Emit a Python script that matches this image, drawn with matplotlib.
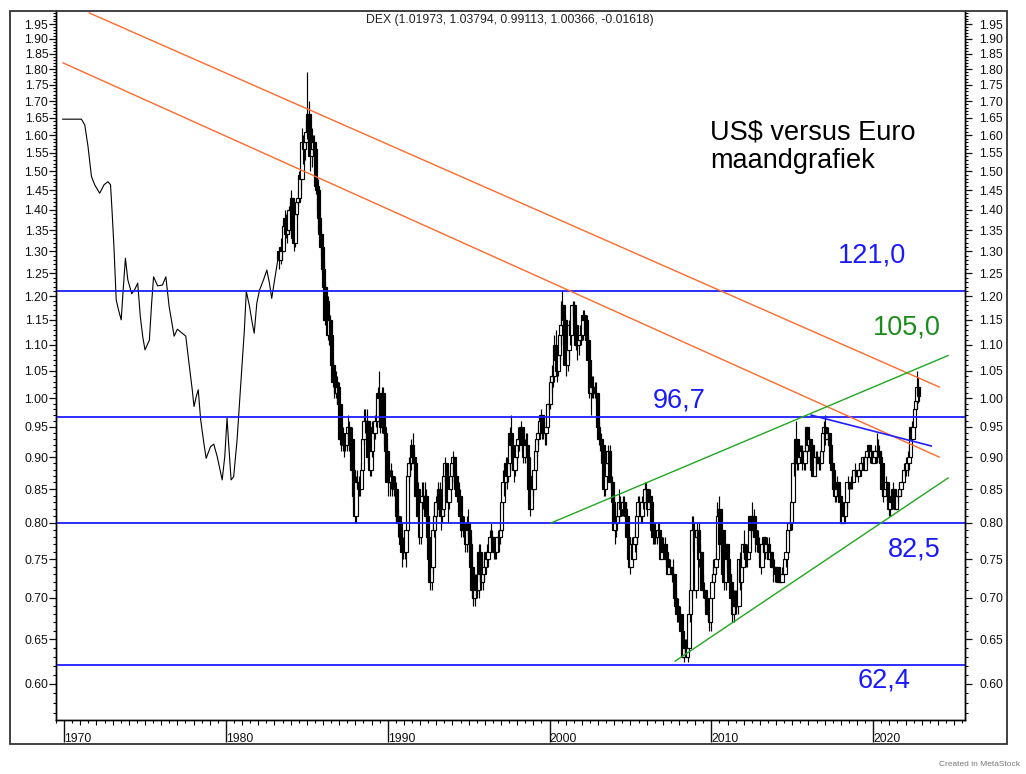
import numpy as np
import matplotlib
matplotlib.use("Agg")
import matplotlib.pyplot as plt
from matplotlib.patches import Rectangle
from matplotlib.ticker import FixedLocator, NullFormatter, FixedFormatter

plt.rcParams['font.family'] = ['Liberation Sans', 'DejaVu Sans']

# ---- early part (line chart, 1970 - 1983) ----
early_t = [1969.91, 1971.07, 1971.28, 1971.48, 1971.69, 1971.89, 1972.20, 1972.47,
           1972.71, 1972.87, 1972.96, 1973.08, 1973.22, 1973.36, 1973.53, 1973.65,
           1973.79, 1973.94, 1974.18, 1974.35, 1974.55, 1974.71, 1974.86, 1975.00,
           1975.27, 1975.41, 1975.53, 1975.78, 1976.08, 1976.29, 1976.49, 1976.80,
           1977.00, 1977.52, 1977.72, 1977.92, 1978.03, 1978.17, 1978.29, 1978.44,
           1978.64, 1978.78, 1979.05, 1979.25, 1979.46, 1979.77, 1979.93, 1980.07,
           1980.17, 1980.32, 1980.48, 1980.69, 1980.99, 1981.14, 1981.26, 1981.46,
           1981.63, 1981.75, 1981.91, 1982.08, 1982.32, 1982.53, 1982.69, 1982.83,
           1983.04, 1983.24, 1983.34]
early_v = [1.646, 1.646, 1.629, 1.567, 1.486, 1.464, 1.442, 1.464,
           1.472, 1.464, 1.400, 1.311, 1.192, 1.171, 1.150, 1.213,
           1.284, 1.235, 1.205, 1.213, 1.228, 1.157, 1.116, 1.090,
           1.109, 1.185, 1.242, 1.222, 1.224, 1.242, 1.178, 1.117,
           1.131, 1.117, 1.064, 1.015, 0.985, 1.003, 1.015, 0.962,
           0.922, 0.898, 0.917, 0.921, 0.901, 0.864, 0.901, 0.965,
           0.922, 0.864, 0.869, 0.928, 1.058, 1.129, 1.210, 1.178,
           1.143, 1.123, 1.185, 1.213, 1.235, 1.257, 1.228, 1.195,
           1.242, 1.288, 1.303]

# ---- monthly candles, April 1983 - October 2022 ----
start_year, start_month = 1983, 4
first_open = 1.30
close_rows = [
    [1.28, 1.31, 1.30, 1.36, 1.38, 1.34, 1.35, 1.40, 1.40],                    # 1983
    [1.43, 1.33, 1.32, 1.39, 1.42, 1.43, 1.49, 1.48, 1.58, 1.56, 1.58, 1.61],  # 1984
    [1.66, 1.60, 1.54, 1.56, 1.58, 1.56, 1.46, 1.45, 1.38, 1.34, 1.31, 1.26],
    [1.22, 1.15, 1.19, 1.12, 1.15, 1.12, 1.06, 1.03, 1.03, 1.01, 1.02, 0.99],
    [0.93, 0.94, 0.93, 0.92, 0.92, 0.94, 0.95, 0.92, 0.93, 0.88, 0.84, 0.81],
    [0.86, 0.86, 0.85, 0.85, 0.88, 0.93, 0.96, 0.96, 0.96, 0.90, 0.88, 0.91],
    [0.95, 0.94, 0.96, 0.96, 1.01, 1.00, 0.95, 1.01, 0.95, 0.94, 0.91, 0.86],
    [0.86, 0.86, 0.87, 0.86, 0.85, 0.85, 0.81, 0.80, 0.80, 0.77, 0.76, 0.77],  # 1990
    [0.76, 0.79, 0.87, 0.89, 0.89, 0.92, 0.90, 0.89, 0.84, 0.85, 0.81, 0.78],
    [0.83, 0.84, 0.84, 0.84, 0.81, 0.78, 0.75, 0.72, 0.74, 0.79, 0.81, 0.83],
    [0.83, 0.85, 0.82, 0.81, 0.82, 0.87, 0.89, 0.84, 0.83, 0.85, 0.87, 0.89],
    [0.90, 0.87, 0.85, 0.84, 0.84, 0.81, 0.79, 0.79, 0.79, 0.77, 0.80, 0.79],
    [0.77, 0.74, 0.71, 0.70, 0.72, 0.71, 0.71, 0.76, 0.73, 0.72, 0.73, 0.74],
    [0.76, 0.75, 0.76, 0.78, 0.78, 0.78, 0.76, 0.76, 0.78, 0.78, 0.78, 0.79],
    [0.83, 0.86, 0.86, 0.89, 0.87, 0.89, 0.94, 0.92, 0.90, 0.88, 0.90, 0.92],
    [0.93, 0.93, 0.95, 0.92, 0.90, 0.92, 0.92, 0.90, 0.85, 0.82, 0.87, 0.85],
    [0.88, 0.91, 0.93, 0.94, 0.96, 0.97, 0.94, 0.94, 0.94, 0.95, 0.99, 0.99],
    [1.03, 1.04, 1.04, 1.10, 1.07, 1.05, 1.08, 1.12, 1.14, 1.18, 1.15, 1.06],  # 2000
    [1.06, 1.09, 1.14, 1.12, 1.18, 1.18, 1.14, 1.10, 1.10, 1.11, 1.12, 1.12],
    [1.16, 1.15, 1.15, 1.11, 1.07, 1.01, 1.02, 1.02, 1.01, 1.01, 1.01, 0.95],
    [0.93, 0.93, 0.92, 0.89, 0.85, 0.87, 0.89, 0.91, 0.86, 0.86, 0.83, 0.79],
    [0.80, 0.80, 0.81, 0.83, 0.82, 0.82, 0.83, 0.82, 0.81, 0.78, 0.75, 0.74],
    [0.77, 0.75, 0.77, 0.78, 0.81, 0.83, 0.83, 0.81, 0.83, 0.83, 0.85, 0.85],
    [0.82, 0.84, 0.83, 0.79, 0.78, 0.78, 0.78, 0.78, 0.79, 0.78, 0.75, 0.76],
    [0.77, 0.76, 0.75, 0.73, 0.74, 0.74, 0.73, 0.73, 0.70, 0.69, 0.68, 0.68],
    [0.68, 0.66, 0.63, 0.64, 0.64, 0.63, 0.64, 0.68, 0.71, 0.79, 0.79, 0.71],
    [0.78, 0.79, 0.75, 0.76, 0.71, 0.71, 0.71, 0.70, 0.68, 0.68, 0.67, 0.70],
    [0.72, 0.73, 0.74, 0.75, 0.81, 0.82, 0.77, 0.79, 0.73, 0.72, 0.77, 0.75],  # 2010
    [0.73, 0.72, 0.70, 0.68, 0.69, 0.69, 0.69, 0.69, 0.75, 0.72, 0.74, 0.77],
    [0.76, 0.75, 0.75, 0.76, 0.81, 0.79, 0.81, 0.79, 0.78, 0.77, 0.77, 0.76],
    [0.74, 0.77, 0.78, 0.76, 0.77, 0.77, 0.75, 0.76, 0.74, 0.74, 0.74, 0.73],
    [0.74, 0.72, 0.73, 0.72, 0.73, 0.73, 0.75, 0.76, 0.79, 0.80, 0.80, 0.83],
    [0.89, 0.89, 0.93, 0.89, 0.91, 0.90, 0.91, 0.89, 0.89, 0.91, 0.95, 0.92],
    [0.93, 0.92, 0.88, 0.87, 0.90, 0.90, 0.89, 0.90, 0.89, 0.91, 0.94, 0.95],
    [0.93, 0.94, 0.94, 0.92, 0.89, 0.88, 0.85, 0.84, 0.85, 0.86, 0.84, 0.83],
    [0.80, 0.82, 0.81, 0.83, 0.86, 0.86, 0.86, 0.86, 0.86, 0.88, 0.88, 0.87],
    [0.87, 0.88, 0.89, 0.89, 0.90, 0.88, 0.90, 0.91, 0.92, 0.90, 0.91, 0.89],
    [0.90, 0.91, 0.91, 0.91, 0.90, 0.89, 0.85, 0.84, 0.85, 0.86, 0.84, 0.82],  # 2020
    [0.83, 0.83, 0.85, 0.83, 0.82, 0.84, 0.84, 0.85, 0.86, 0.86, 0.88, 0.88],
    [0.89, 0.89, 0.90, 0.95, 0.93, 0.95, 0.98, 0.995, 1.01973, 1.00366],
]
high_rows = [
    [1.31, 1.33, 1.33, 1.37, 1.40, 1.39, 1.37, 1.41, 1.42],
    [1.45, 1.43, 1.35, 1.40, 1.43, 1.45, 1.50, 1.52, 1.62, 1.60, 1.59, 1.64],
    [1.79, 1.70, 1.63, 1.62, 1.60, 1.60, 1.56, 1.48, 1.48, 1.39, 1.35, 1.32],
    [1.28, 1.23, 1.20, 1.20, 1.16, 1.16, 1.12, 1.07, 1.05, 1.05, 1.04, 1.03],
    [0.99, 0.95, 0.95, 0.94, 0.93, 0.95, 0.97, 0.96, 0.94, 0.95, 0.88, 0.85],
    [0.87, 0.88, 0.87, 0.87, 0.89, 0.94, 0.98, 0.98, 0.98, 0.96, 0.91, 0.92],
    [0.96, 0.96, 0.97, 0.98, 1.02, 1.05, 1.00, 1.02, 1.02, 0.96, 0.94, 0.92],
    [0.88, 0.88, 0.89, 0.88, 0.87, 0.87, 0.86, 0.82, 0.81, 0.81, 0.78, 0.78],
    [0.78, 0.79, 0.88, 0.90, 0.90, 0.93, 0.94, 0.91, 0.90, 0.87, 0.86, 0.82],
    [0.84, 0.86, 0.86, 0.86, 0.85, 0.81, 0.78, 0.76, 0.76, 0.80, 0.83, 0.84],
    [0.85, 0.86, 0.86, 0.83, 0.83, 0.87, 0.90, 0.89, 0.85, 0.86, 0.88, 0.90],
    [0.91, 0.90, 0.88, 0.87, 0.86, 0.85, 0.82, 0.81, 0.81, 0.80, 0.81, 0.82],
    [0.80, 0.78, 0.75, 0.72, 0.73, 0.73, 0.72, 0.77, 0.77, 0.74, 0.74, 0.75],
    [0.76, 0.77, 0.77, 0.79, 0.80, 0.79, 0.78, 0.77, 0.78, 0.79, 0.79, 0.80],
    [0.84, 0.88, 0.88, 0.90, 0.90, 0.90, 0.95, 0.97, 0.92, 0.91, 0.90, 0.93],
    [0.95, 0.94, 0.96, 0.95, 0.92, 0.93, 0.94, 0.94, 0.90, 0.86, 0.87, 0.88],
    [0.88, 0.92, 0.94, 0.95, 0.96, 0.98, 0.97, 0.96, 0.95, 0.96, 0.99, 1.00],
    [1.04, 1.06, 1.06, 1.12, 1.13, 1.08, 1.09, 1.13, 1.19, 1.21, 1.18, 1.16],
    [1.09, 1.10, 1.15, 1.15, 1.18, 1.19, 1.19, 1.15, 1.14, 1.12, 1.14, 1.14],
    [1.17, 1.17, 1.16, 1.16, 1.12, 1.08, 1.04, 1.04, 1.04, 1.03, 1.03, 1.01],
    [0.96, 0.94, 0.94, 0.92, 0.90, 0.88, 0.90, 0.92, 0.92, 0.87, 0.87, 0.84],
    [0.82, 0.81, 0.83, 0.85, 0.84, 0.83, 0.84, 0.84, 0.83, 0.81, 0.78, 0.76],
    [0.77, 0.78, 0.78, 0.79, 0.81, 0.84, 0.84, 0.83, 0.84, 0.84, 0.86, 0.86],
    [0.85, 0.85, 0.85, 0.83, 0.80, 0.80, 0.80, 0.79, 0.80, 0.80, 0.78, 0.77],
    [0.78, 0.78, 0.76, 0.75, 0.75, 0.75, 0.74, 0.75, 0.73, 0.71, 0.70, 0.70],
    [0.69, 0.68, 0.66, 0.65, 0.65, 0.65, 0.64, 0.69, 0.72, 0.81, 0.81, 0.80],
    [0.79, 0.80, 0.80, 0.77, 0.76, 0.73, 0.72, 0.71, 0.70, 0.69, 0.68, 0.70],
    [0.73, 0.75, 0.75, 0.76, 0.83, 0.84, 0.82, 0.79, 0.79, 0.74, 0.77, 0.77],
    [0.76, 0.74, 0.73, 0.71, 0.71, 0.71, 0.71, 0.71, 0.75, 0.76, 0.76, 0.77],
    [0.79, 0.77, 0.77, 0.77, 0.81, 0.81, 0.83, 0.82, 0.80, 0.78, 0.79, 0.78],
    [0.76, 0.77, 0.78, 0.78, 0.78, 0.78, 0.78, 0.76, 0.76, 0.75, 0.75, 0.74],
    [0.74, 0.74, 0.73, 0.73, 0.74, 0.74, 0.75, 0.76, 0.79, 0.80, 0.81, 0.83],
    [0.89, 0.90, 0.96, 0.93, 0.92, 0.92, 0.92, 0.92, 0.90, 0.92, 0.95, 0.95],
    [0.93, 0.93, 0.92, 0.89, 0.90, 0.91, 0.91, 0.90, 0.90, 0.92, 0.95, 0.96],
    [0.97, 0.95, 0.95, 0.94, 0.92, 0.90, 0.88, 0.85, 0.86, 0.87, 0.86, 0.85],
    [0.84, 0.82, 0.82, 0.83, 0.86, 0.87, 0.86, 0.87, 0.86, 0.88, 0.89, 0.88],
    [0.88, 0.89, 0.89, 0.90, 0.90, 0.90, 0.90, 0.91, 0.92, 0.92, 0.91, 0.91],
    [0.91, 0.92, 0.94, 0.93, 0.92, 0.91, 0.89, 0.86, 0.86, 0.87, 0.86, 0.84],
    [0.83, 0.84, 0.86, 0.85, 0.83, 0.84, 0.85, 0.86, 0.86, 0.87, 0.89, 0.89],
    [0.90, 0.91, 0.92, 0.95, 0.96, 0.96, 0.98, 1.01, 1.049, 1.03794],
]
low_rows = [
    [1.26, 1.27, 1.28, 1.30, 1.35, 1.33, 1.32, 1.34, 1.38],
    [1.39, 1.32, 1.30, 1.31, 1.38, 1.41, 1.42, 1.45, 1.48, 1.52, 1.53, 1.57],
    [1.59, 1.58, 1.50, 1.51, 1.55, 1.53, 1.44, 1.40, 1.35, 1.32, 1.29, 1.25],
    [1.20, 1.14, 1.14, 1.11, 1.10, 1.10, 1.05, 1.02, 1.00, 1.00, 0.99, 0.98],
    [0.92, 0.91, 0.91, 0.90, 0.91, 0.91, 0.93, 0.91, 0.91, 0.87, 0.83, 0.80],
    [0.80, 0.85, 0.84, 0.84, 0.85, 0.88, 0.92, 0.94, 0.94, 0.89, 0.87, 0.87],
    [0.90, 0.93, 0.93, 0.95, 0.96, 0.98, 0.94, 0.94, 0.94, 0.92, 0.90, 0.86],
    [0.84, 0.84, 0.85, 0.84, 0.84, 0.84, 0.80, 0.78, 0.78, 0.76, 0.74, 0.75],
    [0.75, 0.74, 0.79, 0.86, 0.87, 0.88, 0.89, 0.88, 0.84, 0.83, 0.80, 0.77],
    [0.77, 0.82, 0.82, 0.82, 0.80, 0.77, 0.74, 0.71, 0.71, 0.73, 0.78, 0.80],
    [0.81, 0.82, 0.81, 0.79, 0.80, 0.81, 0.86, 0.83, 0.80, 0.82, 0.85, 0.86],
    [0.88, 0.86, 0.84, 0.83, 0.82, 0.80, 0.78, 0.78, 0.78, 0.76, 0.76, 0.78],
    [0.76, 0.74, 0.70, 0.69, 0.69, 0.70, 0.70, 0.70, 0.72, 0.71, 0.71, 0.72],
    [0.73, 0.74, 0.74, 0.76, 0.77, 0.77, 0.75, 0.75, 0.75, 0.77, 0.76, 0.77],
    [0.79, 0.82, 0.84, 0.86, 0.85, 0.86, 0.88, 0.91, 0.88, 0.86, 0.87, 0.89],
    [0.91, 0.91, 0.92, 0.91, 0.89, 0.89, 0.91, 0.89, 0.84, 0.81, 0.82, 0.84],
    [0.85, 0.88, 0.90, 0.92, 0.93, 0.95, 0.93, 0.93, 0.92, 0.92, 0.95, 0.98],
    [0.98, 1.01, 1.02, 1.03, 1.06, 1.03, 1.04, 1.07, 1.10, 1.12, 1.12, 1.06],
    [1.04, 1.05, 1.07, 1.10, 1.12, 1.16, 1.12, 1.09, 1.07, 1.08, 1.10, 1.10],
    [1.11, 1.13, 1.13, 1.10, 1.07, 1.00, 0.97, 1.00, 1.00, 1.00, 0.99, 0.95],
    [0.92, 0.91, 0.91, 0.89, 0.84, 0.84, 0.86, 0.89, 0.86, 0.85, 0.83, 0.79],
    [0.77, 0.78, 0.80, 0.80, 0.81, 0.81, 0.81, 0.81, 0.80, 0.78, 0.75, 0.73],
    [0.74, 0.75, 0.75, 0.76, 0.77, 0.81, 0.81, 0.80, 0.80, 0.82, 0.83, 0.83],
    [0.81, 0.82, 0.82, 0.79, 0.77, 0.77, 0.77, 0.77, 0.78, 0.78, 0.75, 0.75],
    [0.75, 0.75, 0.74, 0.73, 0.73, 0.73, 0.72, 0.72, 0.70, 0.69, 0.67, 0.67],
    [0.67, 0.66, 0.63, 0.624, 0.63, 0.63, 0.624, 0.64, 0.67, 0.70, 0.76, 0.71],
    [0.70, 0.77, 0.74, 0.74, 0.71, 0.70, 0.70, 0.69, 0.68, 0.67, 0.66, 0.66],
    [0.70, 0.72, 0.73, 0.73, 0.75, 0.80, 0.77, 0.76, 0.73, 0.71, 0.71, 0.74],
    [0.72, 0.71, 0.70, 0.67, 0.67, 0.68, 0.68, 0.68, 0.69, 0.71, 0.72, 0.74],
    [0.75, 0.74, 0.74, 0.75, 0.76, 0.78, 0.79, 0.79, 0.76, 0.76, 0.76, 0.75],
    [0.73, 0.74, 0.76, 0.75, 0.76, 0.75, 0.75, 0.74, 0.74, 0.72, 0.73, 0.72],
    [0.72, 0.72, 0.72, 0.72, 0.72, 0.73, 0.73, 0.74, 0.76, 0.78, 0.79, 0.79],
    [0.83, 0.87, 0.89, 0.88, 0.88, 0.89, 0.90, 0.88, 0.88, 0.88, 0.91, 0.91],
    [0.91, 0.89, 0.88, 0.87, 0.87, 0.88, 0.89, 0.88, 0.88, 0.89, 0.90, 0.94],
    [0.92, 0.93, 0.93, 0.91, 0.89, 0.87, 0.85, 0.83, 0.83, 0.84, 0.84, 0.83],
    [0.80, 0.80, 0.80, 0.81, 0.82, 0.85, 0.85, 0.85, 0.85, 0.86, 0.87, 0.87],
    [0.86, 0.87, 0.87, 0.88, 0.89, 0.88, 0.88, 0.89, 0.90, 0.89, 0.90, 0.89],
    [0.89, 0.89, 0.89, 0.90, 0.89, 0.88, 0.84, 0.83, 0.84, 0.85, 0.83, 0.81],
    [0.81, 0.82, 0.82, 0.83, 0.82, 0.82, 0.83, 0.84, 0.84, 0.86, 0.86, 0.87],
    [0.87, 0.87, 0.88, 0.90, 0.93, 0.93, 0.95, 0.98, 0.98, 0.99113],
]

# horizontal support / resistance levels
levels = [1.21, 0.967, 0.80, 0.621]
# trend lines: (year0, value0, year1, value1)
orange_lines = [(1971.56, 1.990, 2024.08, 1.020),
                (1969.94, 1.820, 2024.08, 0.900)]
green_lines = [(2000.09, 0.800, 2024.63, 1.079),
               (2007.76, 0.625, 2024.63, 0.867)]
blue_trend = [(2016.17, 0.970, 2023.59, 0.918)]

# level labels: (text, year, value, colour)
level_labels = [("121,0", 2017.82, 1.274, '#1a1aff'),
                ("105,0", 2019.97, 1.121, '#1b8c1b'),
                ("96,7", 2006.35, 0.984, '#1a1aff'),
                ("82,5", 2020.89, 0.753, '#1a1aff'),
                ("62,4", 2019.05, 0.596, '#1a1aff')]

y_major = [round(0.60 + 0.05 * k, 2) for k in range(28)]
y_minor = [round(0.57 + 0.01 * k, 2) for k in range(143)]
y_minor = [v for v in y_minor if round(v * 100) % 5 != 0]

closes = np.array(sum(close_rows, []))
highs = np.array(sum(high_rows, []))
lows = np.array(sum(low_rows, []))
n = len(closes)
t = start_year + (start_month - 1 + np.arange(n) + 0.5) / 12.0
opens = np.r_[first_open, closes[:-1]]

fig = plt.figure(figsize=(10.26, 7.74), dpi=100)
ax = fig.add_axes([56 / 1026, 54 / 774, 909 / 1026, 709 / 774])
ax.set_yscale('log')
ax.set_xlim(1969.908, 2025.675)
ax.set_ylim(0.5626, 1.997)

# early line
ax.plot(early_t, early_v, color='black', lw=0.8, zorder=2)

# candles (hollow = up, black = down)
bw = 0.21
for i in range(n):
    o, c = opens[i], closes[i]
    h = max(highs[i], o, c)
    l = min(lows[i], o, c)
    z = 2 + i * 1e-3
    ax.vlines(t[i], l, h, color='black', lw=0.85, zorder=z)
    lo, hi = min(o, c), max(o, c)
    face = 'white' if c >= o else 'black'
    ax.add_patch(Rectangle((t[i] - bw / 2, lo), bw, hi - lo, facecolor=face,
                           edgecolor='black', lw=0.85, zorder=z + 5e-4))

for v in levels:
    ax.axhline(v, color='#1e1eff', lw=1.3, zorder=5)
for x0, v0, x1, v1 in orange_lines:
    ax.plot([x0, x1], [v0, v1], color='#ff6a2b', lw=1.0, zorder=5)
for x0, v0, x1, v1 in green_lines:
    ax.plot([x0, x1], [v0, v1], color='#1fa81f', lw=1.0, zorder=5)
for x0, v0, x1, v1 in blue_trend:
    ax.plot([x0, x1], [v0, v1], color='#1e1eff', lw=1.2, zorder=5)

for txt, x, v, col in level_labels:
    ax.text(x, v, txt, color=col, fontsize=19.5, ha='left', va='baseline', zorder=6)
ax.text(2009.9, 1.586, "US$ versus Euro", fontsize=19.5, ha='left', va='baseline', zorder=6)
ax.text(2009.9, 1.508, "maandgrafiek", fontsize=19.5, ha='left', va='baseline', zorder=6)

# y axes (left and right)
ax2 = ax.twinx()
ax2.set_yscale('log')
ax2.set_ylim(ax.get_ylim())
for a, pad in ((ax, 0.5), (ax2, 5.5)):
    a.yaxis.set_major_locator(FixedLocator(y_major))
    a.yaxis.set_major_formatter(FixedFormatter(["%.2f" % v for v in y_major]))
    a.yaxis.set_minor_locator(FixedLocator(y_minor))
    a.yaxis.set_minor_formatter(NullFormatter())
    a.tick_params(axis='y', which='major', length=5, width=0.9, pad=pad,
                  labelsize=8.8, colors='#111111', direction='out')
    a.tick_params(axis='y', which='minor', length=2.2, width=0.8, direction='out')
for lab in ax2.get_yticklabels():
    lab.set_ha('left')

# x axis: decades labelled, yearly and half-year ticks
ax.set_xticks(list(range(1970, 2021, 10)))
ax.set_xticklabels([str(y) for y in range(1970, 2021, 10)])
ax.set_xticks([y + 0.5 for y in range(1969, 2026)], minor=True)
ax.tick_params(axis='x', which='major', length=16, width=1.0, pad=-6.6,
               labelsize=8.8, colors='#111111', direction='out')
ax.tick_params(axis='x', which='minor', length=2.2, width=0.8, direction='out')
for lab in ax.get_xticklabels():
    lab.set_ha('left')
sec = ax.secondary_xaxis('bottom')
sec.set_xticks([y for y in range(1970, 2026) if y % 10 != 0])
sec.set_xticklabels([])
sec.tick_params(axis='x', length=3.8, width=0.8, direction='out')
sec.spines['bottom'].set_visible(False)

for a in (ax, ax2):
    a.spines['top'].set_visible(False)
    for s in ('left', 'right', 'bottom'):
        a.spines[s].set_linewidth(1.0)

fig.text(510 / 1026, 1 - 20 / 774, "DEX (1.01973, 1.03794, 0.99113, 1.00366, -0.01618)",
         ha='center', va='center', fontsize=8.8, color='#222222')
fig.text(1020 / 1026, 1 - 764 / 774, "Created in MetaStock", ha='right', va='center',
         fontsize=6, color='#777777')
fig.add_artist(Rectangle((10 / 1026, 1 - 744 / 774), 997 / 1026, 733 / 774,
                         transform=fig.transFigure, fill=False, ec='#333333', lw=1.3))

fig.savefig("out.png", dpi=100)
